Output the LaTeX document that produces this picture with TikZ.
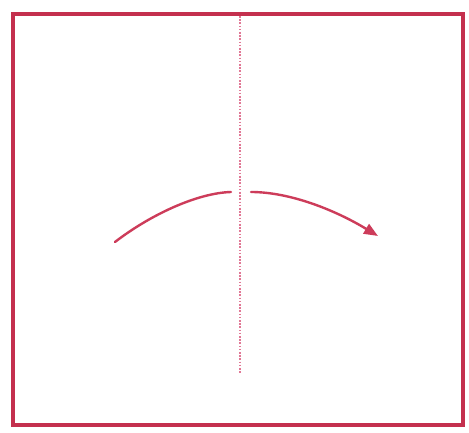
\documentclass[tikz,border=0pt]{standalone}
\usetikzlibrary{arrows.meta}
\definecolor{frame}{RGB}{196,48,78}
\definecolor{arc}{RGB}{205,60,90}
\definecolor{fold}{RGB}{225,120,150}
\tikzset{
  framebox/.style={draw=frame, line width=4.5pt},
  foldline/.style={draw=fold, line width=2.2pt, dash pattern=on 1.6pt off 1.6pt},
  turnarrow/.style={draw=arc, line width=2.4pt, line cap=round},
}
\begin{document}
\begin{tikzpicture}[x=1pt,y=1pt]
\useasboundingbox (0,0) rectangle (469,432);
\fill[white] (0,0) rectangle (469,432);
% frame
\coordinate (bl) at (13,7);
\coordinate (tr) at (463,418);
\draw[framebox] (bl) rectangle (tr);
% vertical dotted fold line
\coordinate (ftop) at (240,416);
\coordinate (fbot) at (240,59);
\draw[foldline] (ftop) -- (fbot);
% curved arrow with a gap at the fold
\coordinate (a0) at (115,190);
\coordinate (a1) at (231,240);
\coordinate (a2) at (251,240);
\coordinate (a3) at (378,196);
\draw[turnarrow] (a0) .. controls (150,217) and (197,239) .. (a1);
\draw[turnarrow, -{Triangle[length=14pt,width=11pt]}] (a2) .. controls (290,240) and (335,222) .. (a3);
\end{tikzpicture}
\end{document}
